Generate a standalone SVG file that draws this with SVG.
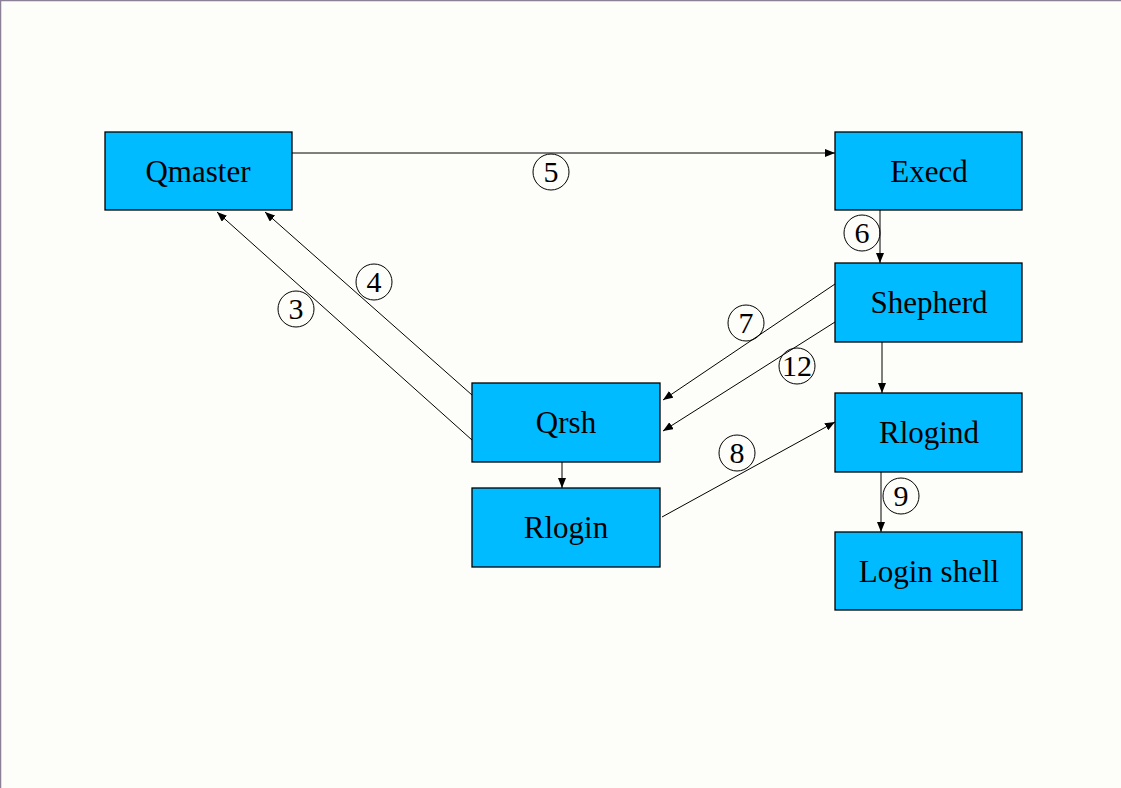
<svg xmlns="http://www.w3.org/2000/svg" width="1121" height="788" viewBox="0 0 1121 788">
<style>
.node rect{fill:#00BBFF;stroke:#000;stroke-width:1.3}
.node text{font-family:"Liberation Serif","Times New Roman",serif;font-size:31px;fill:#000;text-anchor:middle}
.conn line{stroke:#000;stroke-width:1;marker-end:url(#ah)}
.lbl circle{fill:none;stroke:#000;stroke-width:1}
.lbl text{font-family:"Liberation Serif","Times New Roman",serif;font-size:30px;fill:#000;text-anchor:middle}
</style>
<defs>
<marker id="ah" viewBox="0 0 10 8" refX="10" refY="4" markerWidth="10" markerHeight="8" markerUnits="userSpaceOnUse" orient="auto">
<path d="M0,0 L10,4 L0,8 z" fill="#000"/>
</marker>
</defs>
<rect x="0" y="0" width="1121" height="788" fill="#FDFDFA"/>
<path d="M0.5,788 V0.5 H1121" fill="none" stroke="#8C8096" stroke-width="1.5"/>
<g id="qmaster" class="node"><rect x="105" y="132" width="187" height="78"/><text x="198" y="182">Qmaster</text></g>
<g id="execd" class="node"><rect x="835" y="132" width="187" height="78"/><text x="929" y="182">Execd</text></g>
<g id="shepherd" class="node"><rect x="835" y="263" width="187" height="79"/><text x="929" y="313">Shepherd</text></g>
<g id="qrsh" class="node"><rect x="472" y="383" width="188" height="79"/><text x="566" y="433">Qrsh</text></g>
<g id="rlogin" class="node"><rect x="472" y="488" width="188" height="79"/><text x="566" y="538">Rlogin</text></g>
<g id="rlogind" class="node"><rect x="835" y="393" width="187" height="79"/><text x="929" y="443">Rlogind</text></g>
<g id="loginshell" class="node"><rect x="835" y="532" width="187" height="78"/><text x="929" y="582">Login shell</text></g>
<g id="connectors" class="conn">
<line x1="292" y1="153" x2="835" y2="153"/>
<line x1="880" y1="210" x2="880" y2="263"/>
<line x1="882" y1="342" x2="882" y2="393"/>
<line x1="562" y1="462" x2="562" y2="488"/>
<line x1="881" y1="472" x2="881" y2="532"/>
<line x1="835" y1="284" x2="663" y2="400"/>
<line x1="835" y1="322" x2="663" y2="431"/>
<line x1="662" y1="517" x2="835" y2="422"/>
<line x1="472" y1="440" x2="217" y2="212"/>
<line x1="472" y1="395" x2="265" y2="212"/>
</g>
<g id="labels" class="lbl">
<circle cx="551" cy="172" r="18"/><text x="551" y="182">5</text>
<circle cx="862" cy="233" r="18"/><text x="862" y="243">6</text>
<circle cx="746" cy="323" r="18"/><text x="746" y="333">7</text>
<circle cx="797" cy="366" r="18"/><text x="797" y="376">12</text>
<circle cx="737" cy="453" r="18"/><text x="737" y="463">8</text>
<circle cx="901" cy="496" r="18"/><text x="901" y="506">9</text>
<circle cx="296" cy="309" r="18"/><text x="296" y="319">3</text>
<circle cx="374" cy="282" r="18"/><text x="374" y="292">4</text>
</g>
</svg>
